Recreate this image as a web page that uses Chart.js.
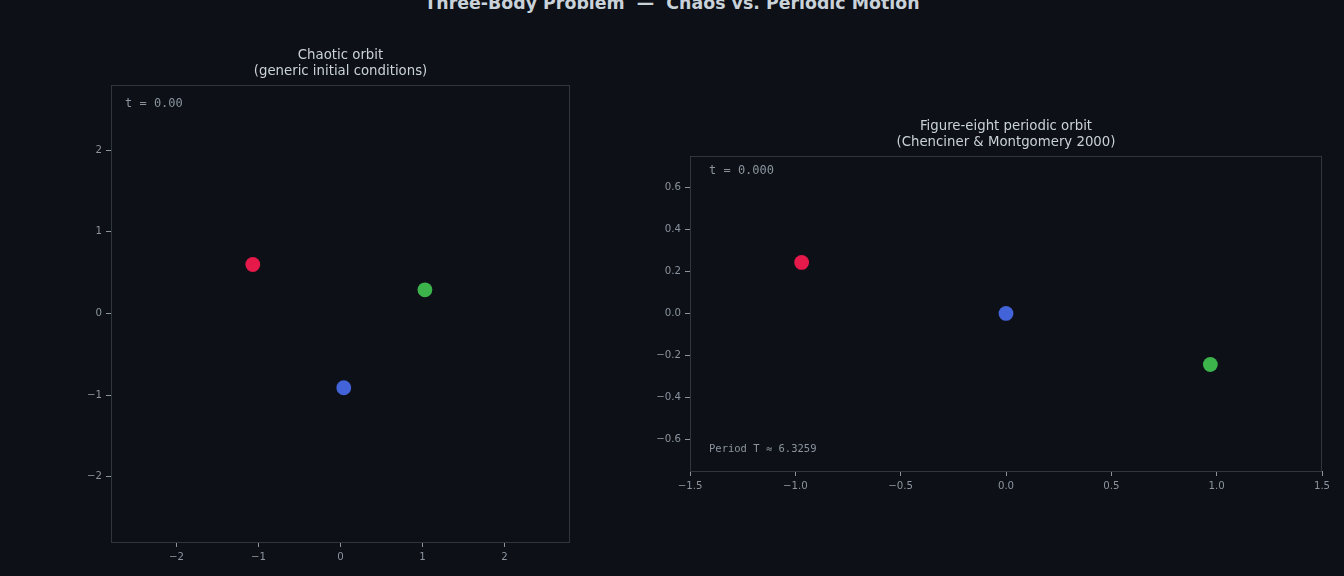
<!DOCTYPE html>
<html>
<head>
<meta charset="utf-8">
<script src="https://cdn.jsdelivr.net/npm/chart.js@4.4.1/dist/chart.umd.min.js"></script>
<style>
  html, body { margin: 0; padding: 0; background: #0d1017; overflow: hidden; }
  #page { position: relative; width: 1344px; height: 576px; background: #0d1017; }
  #suptitle {
    position: absolute; left: 0; top: -5px; width: 1344px; text-align: center;
    font: bold 17.4px "DejaVu Sans", sans-serif; line-height: 16px; color: #c9d1d9;
  }
  .box { position: absolute; top: 0; height: 576px; }
</style>
</head>
<body>
<div id="page">
  <div id="suptitle">Three-Body Problem &nbsp;—&nbsp; Chaos vs. Periodic Motion</div>
  <div class="box" style="left:0;width:620px"><canvas id="chaos"></canvas></div>
  <div class="box" style="left:620px;width:724px"><canvas id="eight"></canvas></div>
</div>
<script>
// bodies: red, blue, green
const bodyNames = ["Body 1", "Body 2", "Body 3"];
const bodyColors = ["#e6194b", "#4363d8", "#3cb44b"];

// chaotic orbit, positions at t = 0
const chaosX = [-1.07, 0.04, 1.03];
const chaosY = [0.60, -0.91, 0.29];
const chaosTicks = [-2, -1, 0, 1, 2];

// figure-eight orbit, positions at t = 0
const eightX = [-0.97000436, 0, 0.97000436];
const eightY = [0.24308753, 0, -0.24308753];
const eightTicksX = [-1.5, -1.0, -0.5, 0.0, 0.5, 1.0, 1.5];
const eightTicksY = [-0.6, -0.4, -0.2, 0.0, 0.2, 0.4, 0.6];

const textColor = "#c9d1d9";
const tickColor = "#8b949e";
const edgeColor = "#30363d";

function minus(s) {
  return String(s).replace("-", "\u2212");
}

// frame round the plot area + little monospace notes inside it
const framePlugin = {
  id: "frame",
  afterDraw(chart, args, opts) {
    const ctx = chart.ctx;
    const a = chart.chartArea;
    ctx.save();
    ctx.strokeStyle = edgeColor;
    ctx.lineWidth = 1;
    ctx.strokeRect(Math.round(a.left) + 0.5, Math.round(a.top) + 0.5,
      Math.round(a.right - a.left) - 1, Math.round(a.bottom - a.top));
    ctx.fillStyle = tickColor;
    ctx.textBaseline = "middle";
    (opts.notes || []).forEach((n) => {
      ctx.font = n.size + "px 'DejaVu Sans Mono', monospace";
      const y = n.fromBottom ? a.bottom - n.dy : a.top + n.dy;
      ctx.fillText(n.text, a.left + n.dx, y);
    });
    ctx.restore();
  },
};

function makeDatasets(xs, ys) {
  return bodyNames.map((name, i) => ({
    label: name,
    data: [{ x: xs[i], y: ys[i] }],
    backgroundColor: bodyColors[i],
    borderWidth: 0,
    pointRadius: 7.4,
  }));
}

function axis(lim, ticks, decimals, isY) {
  return {
    type: "linear",
    min: -lim,
    max: lim,
    afterBuildTicks: (s) => { s.ticks = ticks.map((v) => ({ value: v })); },
    afterFit: (s) => { if (isY) s.width = 40; else s.height = 30; },
    border: { display: false },
    grid: { drawOnChartArea: false, drawTicks: true, tickLength: 5, color: tickColor },
    ticks: {
      color: tickColor,
      padding: 4,
      font: { family: "'DejaVu Sans', sans-serif", size: 10.2 },
      maxRotation: 0,
      autoSkip: false,
      callback: (v) => minus(Number(v).toFixed(decimals)),
    },
  };
}

function config(xs, ys, xLim, yLim, ticksX, ticksY, dec, title, pad, notes) {
  return {
    type: "scatter",
    data: { datasets: makeDatasets(xs, ys) },
    plugins: [framePlugin],
    options: {
      responsive: true,
      maintainAspectRatio: false,
      animation: false,
      layout: { padding: pad },
      scales: {
        x: axis(xLim, ticksX, dec, false),
        y: axis(yLim, ticksY, dec, true),
      },
      plugins: {
        legend: { display: false },
        tooltip: { enabled: false },
        title: {
          display: true,
          text: title,
          fullSize: false,
          color: textColor,
          font: { family: "'DejaVu Sans', sans-serif", size: 13.3, weight: "normal", lineHeight: 1.2 },
          padding: { top: 0, bottom: 5 },
        },
        frame: { notes: notes },
      },
    },
  };
}

new Chart(document.getElementById("chaos"), config(
  chaosX, chaosY, 2.8, 2.8, chaosTicks, chaosTicks, 0,
  ["Chaotic orbit", "(generic initial conditions)"],
  { top: 48, left: 71, right: 50, bottom: 4 },
  [{ text: "t = 0.00", dx: 14, dy: 19, size: 12 }]
));

new Chart(document.getElementById("eight"), config(
  eightX, eightY, 1.5, 0.75, eightTicksX, eightTicksY, 1,
  ["Figure-eight periodic orbit", "(Chenciner & Montgomery 2000)"],
  { top: 119, left: 30, right: 22, bottom: 75 },
  [
    { text: "t = 0.000", dx: 19, dy: 15, size: 12 },
    { text: "Period T \u2248 6.3259", dx: 19, dy: 22, size: 10.5, fromBottom: true },
  ]
));
</script>
</body>
</html>
